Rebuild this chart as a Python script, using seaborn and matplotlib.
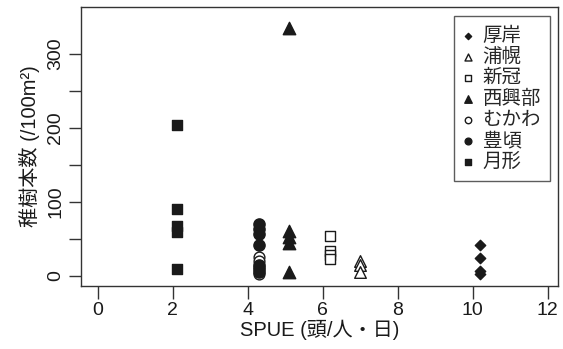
import pandas as pd
import matplotlib.pyplot as plt
import seaborn as sns

# ----------------------------------------
# Data
# ----------------------------------------
sites = ["厚岸", "浦幌", "新冠", "西興部", "むかわ", "豊頃", "月形"]
spue = [10.2, 7.0, 6.2, 5.1, 4.3, 4.3, 2.1]
akkeshi = [42, 24, 6, 3]
urahoro = [20, 14, 5]
niikappu = [54, 33, 28, 23]
nishiokoppe = [335, 60, 52, 44, 5]
mukawa = [25, 20, 12, 3]
toyokoro = [70, 63, 57, 42, 15, 9, 5]
tsukigata = [204, 90, 68, 59, 9]

seedlings = [akkeshi, urahoro, niikappu, nishiokoppe, mukawa, toyokoro, tsukigata]

rows = []
for site, x, ys in zip(sites, spue, seedlings):
    for y in ys:
        rows.append({"site": site, "SPUE": x, "count": y})
df = pd.DataFrame(rows)

# marker, filled, size
styles = {
    "厚岸": ("D", True, 28),
    "浦幌": ("^", False, 70),
    "新冠": ("s", False, 50),
    "西興部": ("^", True, 80),
    "むかわ": ("o", False, 60),
    "豊頃": ("o", True, 65),
    "月形": ("s", True, 60),
}

# ----------------------------------------
# Plot
# ----------------------------------------
sns.set_style("ticks")
plt.rcParams["font.family"] = ["Liberation Sans", "Noto Sans CJK JP"]

fig = plt.figure(figsize=(5.63, 3.49), dpi=100)
ax = fig.add_axes([0.144, 0.181, 0.847, 0.799])

for site in sites:
    marker, filled, size = styles[site]
    sub = df[df["site"] == site]
    sns.scatterplot(
        data=sub, x="SPUE", y="count", ax=ax,
        marker=marker, s=size,
        facecolor="#1a1a1a" if filled else "white",
        edgecolor="#1a1a1a", linewidth=1.0,
        label=site, zorder=3
    )

ax.set_xlim(-0.45, 12.27)
ax.set_ylim(-13.5, 363.5)
ax.set_xticks([0, 2, 4, 6, 8, 10, 12])
ax.set_yticks([0, 50, 100, 150, 200, 250, 300])
ax.set_yticklabels(["0", "", "100", "", "200", "", "300"], rotation=90, va="center")

for s in ax.spines.values():
    s.set_visible(True)
    s.set_color("#333333")
    s.set_linewidth(1.0)

ax.tick_params(axis="both", length=9, width=1.0, color="#333333",
               labelsize=14, labelcolor="#1a1a1a")
ax.tick_params(axis="y", pad=3)
ax.tick_params(axis="x", pad=3)

ax.set_xlabel("SPUE (頭/人・日)", fontsize=14.5, color="#1a1a1a", labelpad=0)
ax.set_ylabel("稚樹本数 (/100m²)", fontsize=14.5, color="#1a1a1a", labelpad=5)

leg = ax.legend(
    loc="upper right", bbox_to_anchor=(0.991, 0.98),
    frameon=True, fancybox=False, edgecolor="#333333",
    markerscale=0.6, handlelength=0.55, handletextpad=0.45,
    labelspacing=0.0, borderpad=0.45, borderaxespad=0.2,
    prop={"family": ["Noto Sans CJK JP"], "size": 14}
)
leg.get_frame().set_linewidth(1.0)

plt.savefig("out.png", dpi=100)
